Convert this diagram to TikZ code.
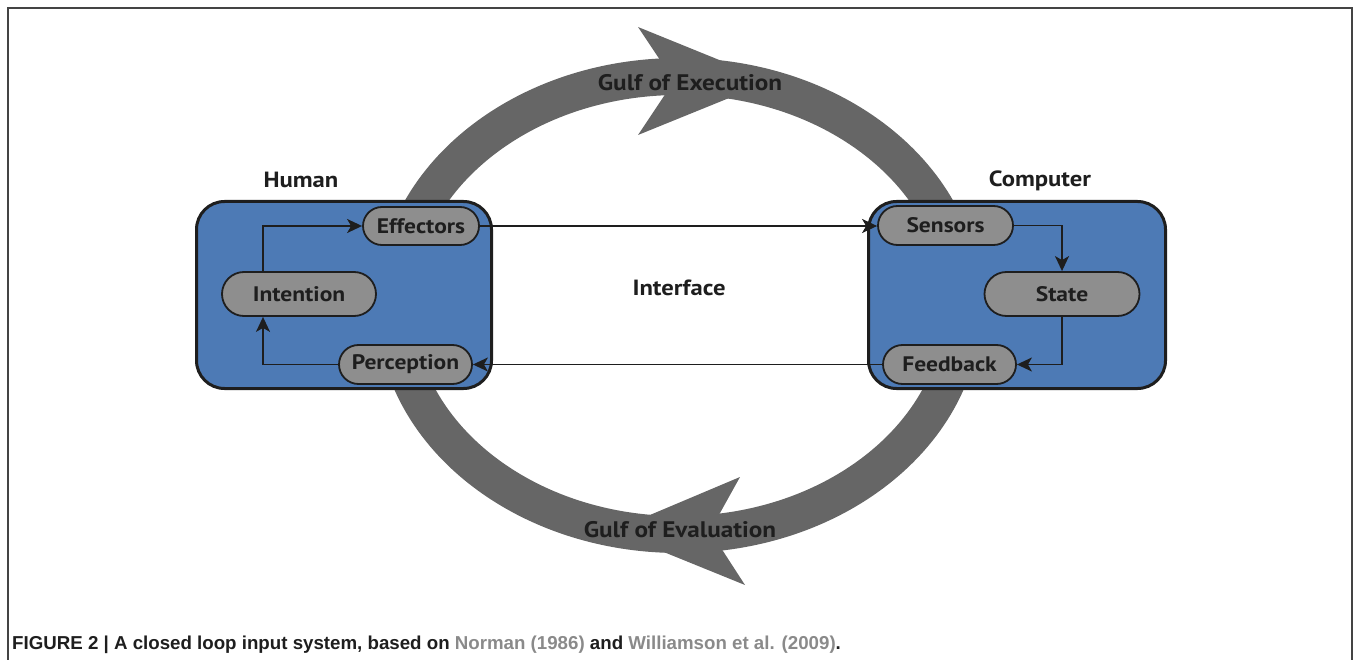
\documentclass[tikz,border=0pt]{standalone}
\usepackage{fontspec}
\setmainfont{PT Sans}[FakeStretch=1.12]
\newfontfamily\captionfont{Liberation Sans}
\usetikzlibrary{arrows.meta,shapes.misc}

\definecolor{ringgray}{HTML}{666666}
\definecolor{boxblue}{HTML}{4D7AB5}
\definecolor{pillgray}{HTML}{8E8E8E}
\definecolor{ink}{HTML}{1E1E1E}
\definecolor{citegray}{HTML}{8A8A8A}
\definecolor{framegray}{HTML}{444444}

\tikzset{
  system/.style={draw=ink, line width=3pt, fill=boxblue, rounded corners=28pt, inner sep=0pt},
  pill/.style={rounded rectangle, draw=ink, line width=1.8pt, fill=pillgray, inner sep=0pt,
    text=ink, font=\bfseries\fontsize{21}{21}\selectfont},
  flow/.style={draw=ink, line width=1.8pt, -{Stealth[length=15pt,width=14pt,inset=4pt]}},
  gulf/.style={text=ink, font=\bfseries\fontsize{22.5}{22.5}\selectfont},
  title/.style={text=ink, font=\bfseries\fontsize{22}{22}\selectfont},
}

\begin{document}
\begin{tikzpicture}[x=1pt, y=-1pt]
    \useasboundingbox (0,0) rectangle (1354,660);
    \draw[framegray, line width=2pt] (8,660) -- (8,8) -- (1352,8) -- (1352,660);

    % the two gulfs
    \draw[ringgray, line width=37pt] (679,305.5) ellipse [x radius=284pt, y radius=229pt];
    \fill[ringgray] (638,27) -- (771,81) -- (638,135) -- (674,81) -- cycle;
    \fill[ringgray] (740,477) -- (612,531) -- (745,585) -- (710,531) -- cycle;
    \node[gulf] (execution) at (690,83) {Gulf of Execution};
    \node[gulf] (evaluation) at (680,530) {Gulf of Evaluation};

    % human side
    \node[system, minimum width=295pt, minimum height=187pt] (human) at (344,295) {};
    \node[title] (humanlabel) at (301,180) {Human};
    \node[pill, minimum width=116pt, minimum height=38pt] (effectors) at (421,226) {Effectors};
    \node[pill, minimum width=154pt, minimum height=44pt] (intention) at (299,294) {Intention};
    \node[pill, minimum width=133pt, minimum height=39pt] (perception) at (405.5,364.5) {Perception};

    % computer side
    \node[system, minimum width=297pt, minimum height=187pt] (computer) at (1017,295) {};
    \node[title] (computerlabel) at (1040,181) {Computer};
    \node[pill, minimum width=135pt, minimum height=39pt] (sensors) at (945.5,225.5) {Sensors};
    \node[pill, minimum width=155pt, minimum height=44pt] (state) at (1062,294) {State};
    \node[pill, minimum width=133pt, minimum height=39pt] (feedback) at (949.5,364.5) {Feedback};

    \node[title] (interface) at (679,288) {Interface};

    % loops
    \draw[flow] ([xshift=-36pt]intention.north) |- (effectors.west);
    \draw[flow] (perception.west) -| ([xshift=-36pt]intention.south);
    \draw[flow] (effectors.east) -- (effectors.east -| sensors.west);
    \draw[flow] (sensors.east) -| (state.north);
    \draw[flow] (state.south) |- (feedback.east);
    \draw[flow] (feedback.west) -- (perception.east);

    \node[anchor=base west, inner sep=0pt, text=ink,
      font=\captionfont\bfseries\fontsize{18.7}{18.7}\selectfont] (caption) at (12,649)
      {FIGURE 2 | A closed loop input system, based on \textcolor{citegray}{Norman (1986)} and \textcolor{citegray}{Williamson et al. (2009)}.};
\end{tikzpicture}
\end{document}
